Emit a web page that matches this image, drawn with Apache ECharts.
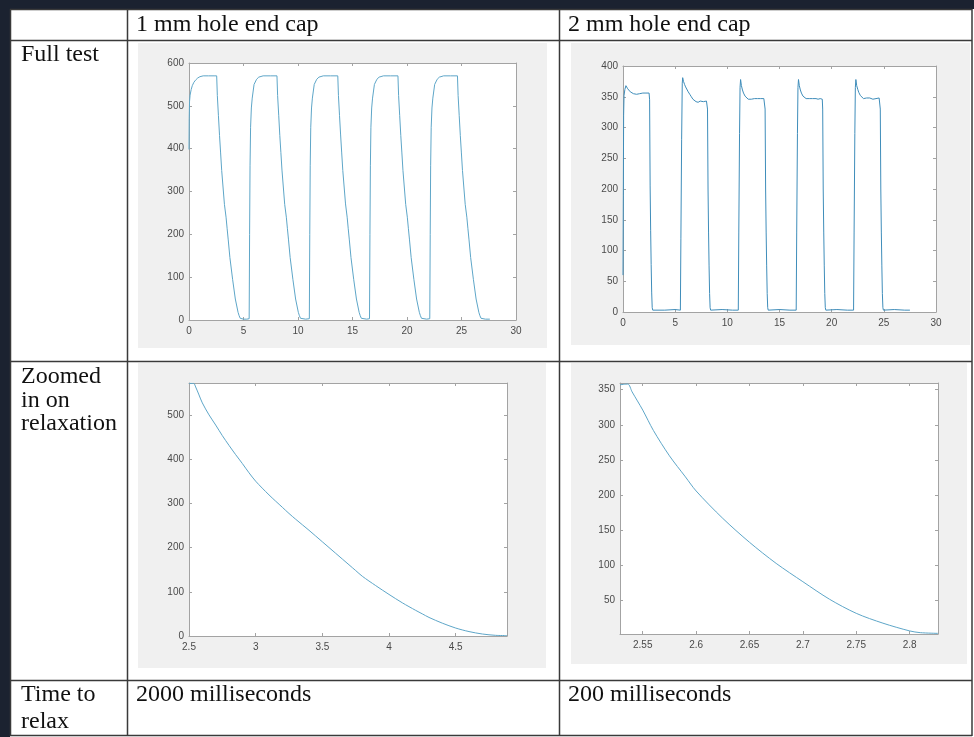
<!DOCTYPE html>
<html>
<head>
<meta charset="utf-8">
<script src="https://cdn.jsdelivr.net/npm/echarts@6/dist/echarts.min.js"></script>
<style>
html, body { margin: 0; padding: 0; background: #1b2230; }
#main { width: 974px; height: 737px; }
</style>
</head>
<body>
<div id="main"></div>
<script>
// 1 mm end cap, full test (time s, value)
var full1mm = [
  [0, 398], [0.02, 470], [0.05, 510], [0.1, 525], [0.2, 538], [0.3, 547], [0.45, 555], [0.6, 560], [0.8, 565], [1.0, 568], [1.3, 570], [1.8, 570], [2.3, 570], [2.54, 570],
  [2.6, 524], [2.7, 477], [2.8, 431], [2.9, 390], [3.0, 349], [3.25, 270], [3.4, 240], [3.5, 213], [3.6, 187], [3.75, 146], [4.0, 95], [4.25, 49], [4.5, 18], [4.6, 10], [4.7, 4], [4.8, 2], [5.0, 2], [5.3, 2], [5.52, 3],
  [5.56, 200], [5.6, 360], [5.65, 450], [5.72, 495], [5.8, 518], [5.97, 550], [6.2, 562], [6.4, 567], [6.8, 570], [7.5, 570], [8.07, 570],
  [8.13, 524], [8.23, 478], [8.33, 431], [8.43, 391], [8.53, 350], [8.78, 270], [8.93, 240], [9.03, 213], [9.13, 187], [9.28, 146], [9.53, 95], [9.78, 49], [10.03, 18], [10.13, 10], [10.23, 4], [10.33, 2], [10.7, 2], [11.04, 3],
  [11.08, 200], [11.12, 360], [11.17, 450], [11.24, 495], [11.32, 518], [11.49, 550], [11.72, 562], [11.92, 567], [12.32, 570], [13.0, 570], [13.65, 570],
  [13.71, 524], [13.81, 477], [13.91, 432], [14.01, 390], [14.11, 349], [14.36, 271], [14.51, 240], [14.61, 213], [14.71, 187], [14.86, 146], [15.11, 95], [15.36, 49], [15.61, 18], [15.71, 10], [15.81, 4], [15.91, 2], [16.3, 2], [16.56, 3],
  [16.6, 200], [16.64, 360], [16.69, 450], [16.76, 495], [16.84, 518], [17.01, 550], [17.24, 562], [17.44, 567], [17.84, 570], [18.5, 570], [19.17, 570],
  [19.23, 524], [19.33, 477], [19.43, 431], [19.53, 390], [19.63, 349], [19.88, 270], [20.03, 240], [20.13, 213], [20.23, 187], [20.38, 146], [20.63, 95], [20.88, 49], [21.13, 18], [21.23, 10], [21.33, 4], [21.43, 2], [21.8, 2], [22.09, 3],
  [22.13, 200], [22.17, 360], [22.22, 450], [22.29, 495], [22.37, 518], [22.54, 550], [22.77, 562], [22.97, 567], [23.36, 570], [24.0, 570], [24.63, 570],
  [24.69, 524], [24.79, 477], [24.89, 431], [24.99, 390], [25.09, 349], [25.34, 270], [25.49, 240], [25.59, 213], [25.69, 187], [25.84, 146], [26.09, 95], [26.34, 49], [26.59, 18], [26.69, 10], [26.79, 4], [26.89, 2], [27.2, 2], [27.6, 2]
];

// 2 mm end cap, full test
var full2mm = [
  [0, 60], [0.03, 190], [0.06, 320], [0.1, 352], [0.18, 362], [0.28, 368], [0.35, 366], [0.45, 363], [0.55, 361], [0.7, 358], [0.85, 357], [1.0, 355], [1.15, 356], [1.3, 354], [1.45, 356], [1.6, 355], [1.75, 354], [1.9, 356], [2.05, 355], [2.2, 356], [2.35, 354], [2.5, 356], [2.53, 355],
  [2.55, 345], [2.6, 205], [2.65, 133], [2.7, 77], [2.75, 31], [2.8, 7], [2.85, 3], [4.0, 3], [5.0, 4], [5.5, 3],
  [5.55, 120], [5.62, 280], [5.68, 372], [5.72, 381], [5.8, 375], [5.9, 370], [6.0, 366], [6.1, 364], [6.25, 358], [6.4, 354], [6.55, 350], [6.7, 346], [6.85, 344], [7.0, 342], [7.2, 341], [7.4, 343], [7.55, 340], [7.7, 342], [7.85, 341], [8.0, 343], [8.07, 342],
  [8.1, 330], [8.15, 200], [8.2, 130], [8.25, 75], [8.3, 30], [8.35, 7], [8.4, 3], [9.5, 4], [10.5, 3], [11.05, 3],
  [11.1, 130], [11.17, 290], [11.22, 365], [11.27, 378], [11.35, 368], [11.45, 361], [11.55, 356], [11.7, 351], [11.85, 348], [12.0, 346], [12.15, 344], [12.3, 346], [12.45, 345], [12.6, 347], [12.75, 345], [12.9, 347], [13.05, 346], [13.2, 347], [13.35, 345], [13.5, 347], [13.58, 346],
  [13.62, 330], [13.67, 200], [13.72, 130], [13.77, 75], [13.82, 30], [13.87, 7], [13.92, 3], [15.0, 4], [16.0, 3], [16.6, 3],
  [16.65, 130], [16.72, 290], [16.77, 365], [16.82, 378], [16.9, 368], [17.0, 361], [17.1, 356], [17.25, 351], [17.4, 348], [17.55, 347], [17.7, 345], [17.85, 347], [18.0, 346], [18.15, 347], [18.3, 345], [18.5, 347], [18.7, 346], [18.9, 347], [19.05, 345], [19.1, 346],
  [19.14, 330], [19.19, 200], [19.24, 130], [19.29, 75], [19.34, 30], [19.39, 7], [19.44, 3], [20.5, 4], [21.5, 3], [22.1, 3],
  [22.15, 130], [22.22, 290], [22.27, 365], [22.32, 378], [22.4, 368], [22.5, 362], [22.6, 357], [22.75, 352], [22.9, 349], [23.05, 347], [23.2, 346], [23.35, 348], [23.5, 346], [23.65, 348], [23.8, 347], [23.95, 346], [24.1, 348], [24.25, 347], [24.4, 346], [24.55, 348], [24.62, 347],
  [24.66, 330], [24.71, 200], [24.76, 130], [24.81, 75], [24.86, 30], [24.91, 7], [24.96, 3], [26.0, 4], [27.0, 3], [27.5, 3]
];

// zoomed relaxation curves
var zoom1mm = [
  [2.5, 571], [2.535, 571], [2.55, 563], [2.575, 545], [2.6, 527], [2.65, 500], [2.7, 477], [2.75, 453], [2.8, 431], [2.85, 410], [2.9, 390], [2.95, 369], [3.0, 350],
  [3.1, 319], [3.2, 291], [3.25, 277], [3.3, 264], [3.4, 239], [3.5, 213], [3.6, 187], [3.7, 161], [3.75, 148], [3.8, 135], [3.9, 114], [4.0, 94],
  [4.1, 75], [4.2, 58], [4.25, 50], [4.3, 42], [4.4, 29], [4.5, 18], [4.6, 10], [4.7, 4.5], [4.8, 1.5], [4.885, 1]
];
var zoom2mm = [
  [2.5287, 357], [2.536, 358], [2.54, 347], [2.55, 321], [2.56, 292], [2.575, 256], [2.59, 226], [2.6, 206], [2.625, 167], [2.65, 133],
  [2.675, 103], [2.7, 77], [2.725, 52], [2.75, 32], [2.775, 18], [2.8, 7], [2.81, 4.5], [2.8266, 3.5]
];

// tick values
var fullTimeTicks = [0, 5, 10, 15, 20, 25, 30];
var full1mmTicks = [0, 100, 200, 300, 400, 500, 600];
var full2mmTicks = [0, 50, 100, 150, 200, 250, 300, 350, 400];
var zoom1mmTimeTicks = [2.5, 3, 3.5, 4, 4.5];
var zoom1mmTicks = [0, 100, 200, 300, 400, 500];
var zoom2mmTimeTicks = [2.55, 2.6, 2.65, 2.7, 2.75, 2.8];
var zoom2mmTicks = [50, 100, 150, 200, 250, 300, 350];

var chart = echarts.init(document.getElementById('main'));

var axisColor = '#a3a3a3';
var labelStyle = { color: '#4a4a4a', fontSize: 10, fontFamily: 'Liberation Sans, Arial, sans-serif' };

// plot panels: grid box, ranges, ticks
var panels = [
  { box: [189, 63, 327, 257], x: [0, 30], y: [0, 600], xt: fullTimeTicks, yt: full1mmTicks, data: full1mm, color: '#5ea6c8', smooth: false },
  { box: [623, 66, 313, 246], x: [0, 30], y: [0, 400], xt: fullTimeTicks, yt: full2mmTicks, data: full2mm, color: '#3f8dba', smooth: false },
  { box: [189, 383, 318, 253], x: [2.5, 4.885], y: [0, 572], xt: zoom1mmTimeTicks, yt: zoom1mmTicks, data: zoom1mm, color: '#5ea6c8', smooth: 0.3 },
  { box: [620, 383, 318, 251], x: [2.5287, 2.8266], y: [2.6, 359.5], xt: zoom2mmTimeTicks, yt: zoom2mmTicks, data: zoom2mm, color: '#5ea6c8', smooth: 0.3 }
];

var grids = [], xAxes = [], yAxes = [], series = [];
panels.forEach(function (p, i) {
  grids.push({ left: p.box[0], top: p.box[1], width: p.box[2], height: p.box[3], show: false });
  ['bottom', 'top'].forEach(function (pos) {
    xAxes.push({
      type: 'value', gridIndex: i, position: pos, min: p.x[0], max: p.x[1],
      axisLine: { show: true, onZero: false, lineStyle: { color: axisColor, width: 1 } },
      axisTick: { show: true, inside: true, length: 3, customValues: p.xt, lineStyle: { color: axisColor } },
      axisLabel: { show: pos === 'bottom', customValues: p.xt, margin: 6, formatter: function (v) { return String(+v.toFixed(3)); }, color: labelStyle.color, fontSize: labelStyle.fontSize, fontFamily: labelStyle.fontFamily },
      splitLine: { show: false }
    });
  });
  ['left', 'right'].forEach(function (pos) {
    yAxes.push({
      type: 'value', gridIndex: i, position: pos, min: p.y[0], max: p.y[1],
      axisLine: { show: true, onZero: false, lineStyle: { color: axisColor, width: 1 } },
      axisTick: { show: true, inside: true, length: 3, customValues: p.yt, lineStyle: { color: axisColor } },
      axisLabel: { show: pos === 'left', customValues: p.yt, margin: 5, color: labelStyle.color, fontSize: labelStyle.fontSize, fontFamily: labelStyle.fontFamily },
      splitLine: { show: false }
    });
  });
  series.push({
    type: 'line', xAxisIndex: i * 2, yAxisIndex: i * 2, data: p.data,
    showSymbol: false, symbol: 'none', smooth: p.smooth, clip: true,
    lineStyle: { color: p.color, width: 1 }
  });
});

var serif = 'Liberation Serif, Times New Roman, serif';
function cellText(x, y, s) {
  return { type: 'text', x: x, y: y, z: 1, style: { text: s, font: '24px ' + serif, fill: '#111', verticalAlign: 'middle' } };
}
function hLine(y) {
  return { type: 'line', z: 1, shape: { x1: 10, y1: y, x2: 972, y2: y }, style: { stroke: '#3a3a3a', lineWidth: 1.5 } };
}
function vLine(x) {
  return { type: 'line', z: 1, shape: { x1: x, y1: 9, x2: x, y2: 736 }, style: { stroke: '#3a3a3a', lineWidth: 1.5 } };
}
function rect(x, y, w, h, fill) {
  return { type: 'rect', z: -2, shape: { x: x, y: y, width: w, height: h }, style: { fill: fill } };
}

var graphics = [
  rect(10, 9, 964, 728, '#ffffff'),
  rect(138, 43, 409, 305, '#f0f0f0'),
  rect(571, 43, 399, 302, '#f0f0f0'),
  rect(138, 363, 408, 305, '#f0f0f0'),
  rect(571, 363, 396, 301, '#f0f0f0'),
  hLine(9.5), hLine(40.5), hLine(361.5), hLine(680.5), hLine(735.5),
  vLine(10.5), vLine(127.5), vLine(559.5), vLine(972),
  cellText(136, 25, '1 mm hole end cap'),
  cellText(568, 25, '2 mm hole end cap'),
  cellText(21, 55, 'Full test'),
  cellText(21, 377, 'Zoomed'),
  cellText(21, 401, 'in on'),
  cellText(21, 424, 'relaxation'),
  cellText(21, 695, 'Time to'),
  cellText(21, 722, 'relax'),
  cellText(136, 695, '2000 milliseconds'),
  cellText(568, 695, '200 milliseconds')
];
panels.forEach(function (p) {
  graphics.push({ type: 'rect', z: -1, shape: { x: p.box[0], y: p.box[1], width: p.box[2], height: p.box[3] }, style: { fill: '#ffffff' } });
});

chart.setOption({
  animation: false,
  backgroundColor: '#1b2230',
  grid: grids,
  xAxis: xAxes,
  yAxis: yAxes,
  series: series,
  graphic: { elements: graphics }
});
</script>
</body>
</html>
